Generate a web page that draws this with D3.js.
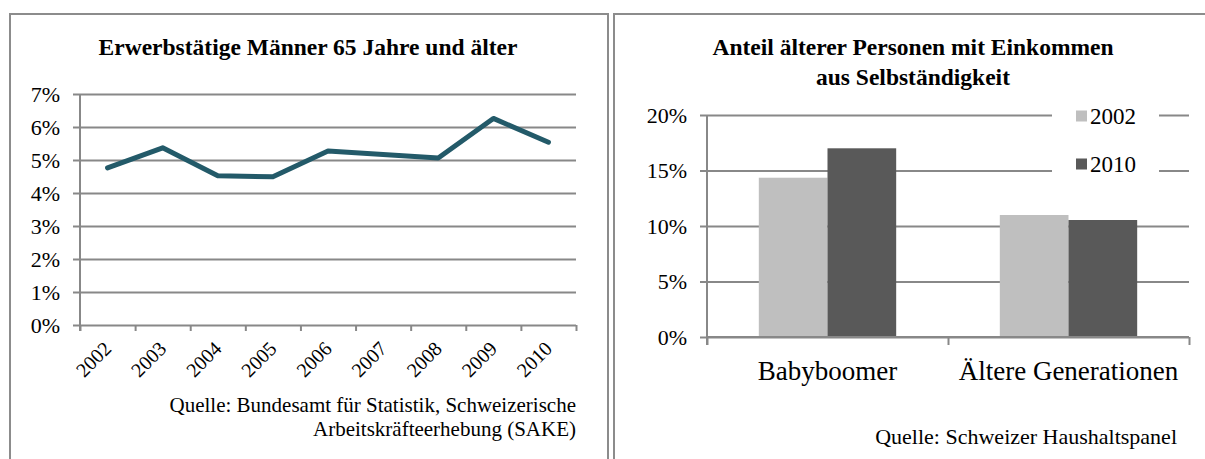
<!DOCTYPE html>
<html>
<head>
<meta charset="utf-8">
<script src="https://cdn.jsdelivr.net/npm/d3@7"></script>
<style>
  body { margin: 0; background: #fff; }
  text { font-family: "Liberation Serif", "Times New Roman", serif; fill: #000; }
</style>
</head>
<body>
<div id="chart"></div>
<script>
// chart data
var years = ["2002", "2003", "2004", "2005", "2006", "2007", "2008", "2009", "2010"];
var menShare = [4.76, 5.37, 4.52, 4.49, 5.27, 5.17, 5.06, 6.26, 5.54];
var leftTicks = [0, 1, 2, 3, 4, 5, 6, 7];

var groups = ["Babyboomer", "Ältere Generationen"];
var seriesNames = ["2002", "2010"];
var share2002 = [14.35, 10.99];
var share2010 = [17.0, 10.54];
var rightTicks = [0, 5, 10, 15, 20];

var gridColor = "#888888";

var svg = d3.select("#chart").append("svg")
  .attr("width", 1205)
  .attr("height", 459);

// panel frames
svg.append("rect")
  .attr("x", 10).attr("y", 14).attr("width", 598).attr("height", 500)
  .attr("fill", "none").attr("stroke", "#8c8c8c").attr("stroke-width", 2);
svg.append("rect")
  .attr("x", 614).attr("y", 14).attr("width", 600).attr("height", 500)
  .attr("fill", "none").attr("stroke", "#8c8c8c").attr("stroke-width", 2);

// ---------- left: line chart ----------
var x1 = d3.scaleBand().domain(years).range([80, 576]);
var xEdges = d3.scaleLinear().domain([0, years.length]).range([80, 576]);
var y1 = d3.scaleLinear().domain([0, 7]).range([325, 94]);

svg.append("text")
  .attr("x", 308).attr("y", 55)
  .attr("text-anchor", "middle")
  .attr("font-size", "23.5px")
  .attr("font-weight", "bold")
  .text("Erwerbstätige Männer 65 Jahre und älter");

var yAxisL = svg.append("g")
  .attr("transform", "translate(73,0)")
  .call(d3.axisLeft(y1).tickValues(leftTicks).tickSize(-503).tickPadding(13)
    .tickFormat(function(d) { return d + "%"; }));
yAxisL.select(".domain").remove();
yAxisL.selectAll("line").attr("stroke", gridColor).attr("stroke-width", 2);
yAxisL.selectAll("text").attr("font-size", "22px").attr("font-family", "Liberation Serif").attr("fill", "#000");

svg.append("line")
  .attr("x1", 80).attr("x2", 80).attr("y1", 94).attr("y2", 331)
  .attr("stroke", gridColor).attr("stroke-width", 2);

var xAxisL = svg.append("g")
  .attr("transform", "translate(0,325)")
  .call(d3.axisBottom(xEdges).tickValues(d3.range(years.length + 1)).tickSize(6).tickFormat(""));
xAxisL.select(".domain").remove();
xAxisL.selectAll("line").attr("stroke", gridColor).attr("stroke-width", 2);

svg.append("g")
  .selectAll("text")
  .data(years)
  .enter()
  .append("text")
  .attr("transform", function(d) {
    return "translate(" + (x1(d) + x1.bandwidth() / 2) + ",345) rotate(-45)";
  })
  .attr("text-anchor", "end")
  .attr("dy", "0.35em")
  .attr("font-size", "20px")
  .text(function(d) { return d; });

var line = d3.line()
  .x(function(d, i) { return x1(years[i]) + x1.bandwidth() / 2; })
  .y(function(d) { return y1(d); });

svg.append("path")
  .datum(menShare)
  .attr("d", line)
  .attr("fill", "none")
  .attr("stroke", "#235a69")
  .attr("stroke-width", 5)
  .attr("stroke-linejoin", "round")
  .attr("stroke-linecap", "round");

svg.append("text")
  .attr("x", 576).attr("y", 412)
  .attr("text-anchor", "end")
  .attr("font-size", "21px")
  .text("Quelle: Bundesamt für Statistik, Schweizerische");
svg.append("text")
  .attr("x", 576).attr("y", 436)
  .attr("text-anchor", "end")
  .attr("font-size", "21px")
  .text("Arbeitskräfteerhebung (SAKE)");

// ---------- right: bar chart ----------
var x2 = d3.scaleBand().domain(groups).range([707, 1189]).paddingInner(0.43).paddingOuter(0.215);
var xSub = d3.scaleBand().domain(seriesNames).range([0, x2.bandwidth()]);
var xEdges2 = d3.scaleLinear().domain([0, groups.length]).range([707, 1189]);
var y2 = d3.scaleLinear().domain([0, 20]).range([337, 115]);
var barColors = d3.scaleOrdinal().domain(seriesNames).range(["#bfbfbf", "#595959"]);

svg.append("text")
  .attr("x", 913).attr("y", 55)
  .attr("text-anchor", "middle")
  .attr("font-size", "23.5px")
  .attr("font-weight", "bold")
  .text("Anteil älterer Personen mit Einkommen");
svg.append("text")
  .attr("x", 913).attr("y", 85)
  .attr("text-anchor", "middle")
  .attr("font-size", "23.5px")
  .attr("font-weight", "bold")
  .text("aus Selbständigkeit");

var yAxisR = svg.append("g")
  .attr("transform", "translate(700,0)")
  .call(d3.axisLeft(y2).tickValues(rightTicks).tickSize(-489).tickPadding(13)
    .tickFormat(function(d) { return d + "%"; }));
yAxisR.select(".domain").remove();
yAxisR.selectAll("line").attr("stroke", gridColor).attr("stroke-width", 2);
yAxisR.selectAll("text").attr("font-size", "22px").attr("font-family", "Liberation Serif").attr("fill", "#000");

svg.append("line")
  .attr("x1", 707).attr("x2", 707).attr("y1", 115).attr("y2", 345)
  .attr("stroke", gridColor).attr("stroke-width", 2);

var xAxisR = svg.append("g")
  .attr("transform", "translate(0,337)")
  .call(d3.axisBottom(xEdges2).tickValues(d3.range(groups.length + 1)).tickSize(8).tickFormat(""));
xAxisR.select(".domain").remove();
xAxisR.selectAll("line").attr("stroke", gridColor).attr("stroke-width", 2);

var barData = [];
groups.forEach(function(g, i) {
  barData.push({ group: g, series: "2002", value: share2002[i] });
  barData.push({ group: g, series: "2010", value: share2010[i] });
});

svg.append("g")
  .selectAll("rect")
  .data(barData)
  .enter()
  .append("rect")
  .attr("x", function(d) { return x2(d.group) + xSub(d.series); })
  .attr("y", function(d) { return y2(d.value); })
  .attr("width", xSub.bandwidth())
  .attr("height", function(d) { return y2(0) - y2(d.value); })
  .attr("fill", function(d) { return barColors(d.series); });

// redraw baseline over bars
svg.append("line")
  .attr("x1", 707).attr("x2", 1189).attr("y1", 337).attr("y2", 337)
  .attr("stroke", gridColor).attr("stroke-width", 2);

svg.append("g")
  .selectAll("text")
  .data(groups)
  .enter()
  .append("text")
  .attr("x", function(d) { return x2(d) + x2.bandwidth() / 2; })
  .attr("y", 380)
  .attr("text-anchor", "middle")
  .attr("font-size", "27px")
  .text(function(d) { return d; });

// legend
var legend = svg.append("g");
legend.append("rect")
  .attr("x", 1052).attr("y", 98).attr("width", 107).attr("height", 86)
  .attr("fill", "#fff");
var legendItems = legend.selectAll("g")
  .data(seriesNames)
  .enter()
  .append("g")
  .attr("transform", function(d, i) { return "translate(1076," + (116 + i * 48) + ")"; });
legendItems.append("rect")
  .attr("x", 0).attr("y", -5.5).attr("width", 11).attr("height", 11)
  .attr("fill", function(d) { return barColors(d); });
legendItems.append("text")
  .attr("x", 14).attr("dy", "0.35em")
  .attr("font-size", "23px")
  .text(function(d) { return d; });

svg.append("text")
  .attr("x", 1177).attr("y", 444)
  .attr("text-anchor", "end")
  .attr("font-size", "22px")
  .text("Quelle: Schweizer Haushaltspanel");
</script>
</body>
</html>
